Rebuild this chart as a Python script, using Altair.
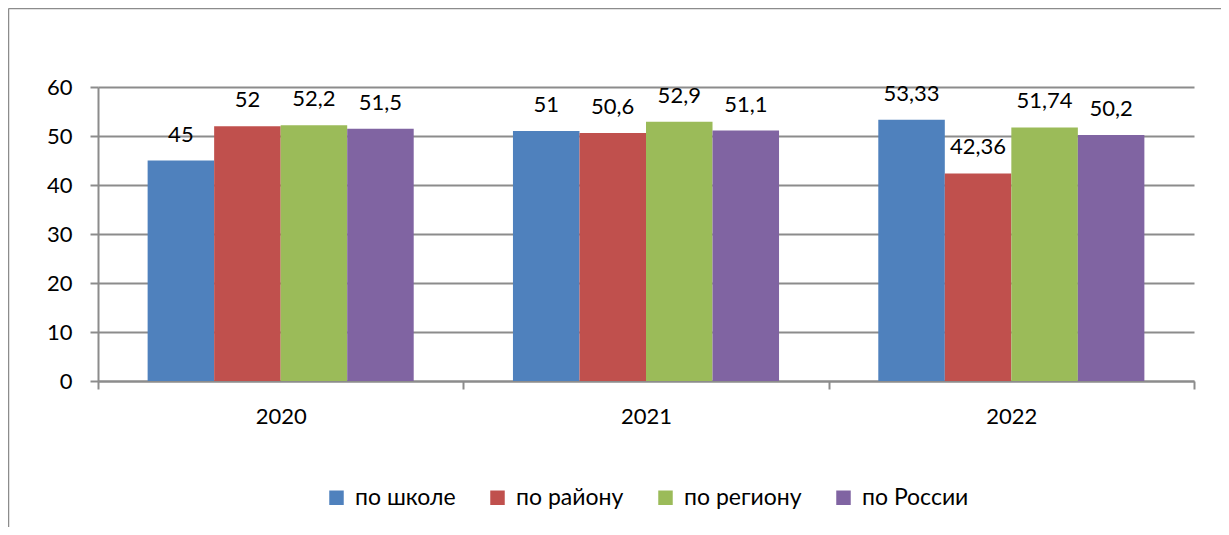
import altair as alt
import pandas as pd

years = ["2020", "2021", "2022"]
series = ["по школе", "по району", "по региону", "по России"]
school = [45, 51, 53.33]
district = [52, 50.6, 42.36]
region = [52.2, 52.9, 51.74]
russia = [51.5, 51.1, 50.2]
colors = ["#4F81BD", "#C0504D", "#9BBB59", "#8064A2"]
y_ticks = [0, 10, 20, 30, 40, 50, 60]

rows = []
for s, vals in zip(series, [school, district, region, russia]):
    for yr, v in zip(years, vals):
        rows.append({"year": yr, "series": s, "value": v,
                     "label": f"{v:g}".replace(".", ",")})
df = pd.DataFrame(rows)

W, H = 1096, 294
FONT = "Lato"
FS = 22
GRAY = "#8c8c8c"

base = alt.Chart(df).encode(
    x=alt.X("year:N", sort=years,
            scale=alt.Scale(paddingInner=0, paddingOuter=0),
            axis=alt.Axis(title=None, labelAngle=0, labelFontSize=FS, labelFont=FONT,
                          labelColor="black", domainColor=GRAY, domainWidth=2,
                          tickColor=GRAY, tickWidth=2, tickSize=8, tickBand="extent",
                          labelPadding=17, grid=False)),
    xOffset=alt.XOffset("series:N", sort=series,
                        scale=alt.Scale(paddingInner=0, paddingOuter=0.746)),
    y=alt.Y("value:Q", scale=alt.Scale(domain=[0, 60], nice=False),
            axis=alt.Axis(title=None, values=y_ticks, labelFontSize=FS, labelFont=FONT,
                          labelColor="black", domainColor=GRAY, domainWidth=2,
                          tickColor=GRAY, tickWidth=2, tickSize=8, labelPadding=18,
                          grid=True, gridColor=GRAY, gridWidth=2)),
)

bars = base.mark_bar().encode(
    color=alt.Color("series:N", sort=series,
                    scale=alt.Scale(domain=series, range=colors),
                    legend=alt.Legend(title=None, orient="none", direction="horizontal",
                                      legendX=227, legendY=399,
                                      symbolType="square", symbolSize=210,
                                      symbolStrokeWidth=0, labelFontSize=23,
                                      labelFont=FONT, labelColor="black",
                                      columnPadding=30, labelOffset=7, labelLimit=300)),
)

texts = base.mark_text(baseline="alphabetic", dy=-19, fontSize=FS, font=FONT,
                       color="black").encode(text="label:N")

one = pd.DataFrame({"a": [0]})
top_line = alt.Chart(one).mark_rule(color=GRAY, strokeWidth=1.5, clip=False).encode(
    x=alt.value(-89.5), x2=alt.value(W + 60), y=alt.value(-78.5))
left_line = alt.Chart(one).mark_rule(color=GRAY, strokeWidth=1.5, clip=False).encode(
    x=alt.value(-89.5), y=alt.value(-78.5), y2=alt.value(H + 200))

chart = alt.layer(top_line, left_line, bars, texts).properties(
    width=W, height=H,
    autosize=alt.AutoSizeParams(type="none"),
    padding={"left": 90, "top": 79, "right": 27, "bottom": 146},
).configure_view(stroke=None)

chart.save("out.html", embed_options={"renderer": "svg", "actions": False})
